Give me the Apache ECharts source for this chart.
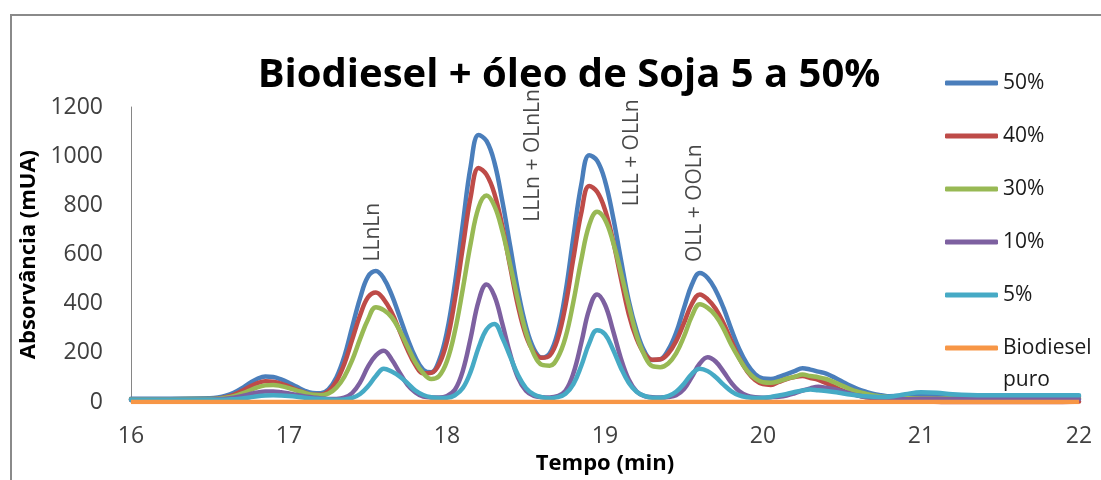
<!DOCTYPE html>
<html>
<head>
<meta charset="utf-8">
<script src="https://cdn.jsdelivr.net/npm/echarts@6/dist/echarts.min.js"></script>
<style>
  html, body { margin: 0; padding: 0; background: #ffffff; }
  #chart { width: 1101px; height: 480px; }
</style>
</head>
<body>
<div id="chart"></div>
<script>
// Retention times (min) shared by the blend chromatograms
const times = [
  16, 16.25, 16.5, 16.55, 16.6, 16.65, 16.7, 16.75, 16.8, 16.85,
  16.9, 16.95, 17, 17.05, 17.1, 17.15, 17.2, 17.25, 17.3, 17.35,
  17.4, 17.45, 17.5, 17.55, 17.6, 17.65, 17.7, 17.75, 17.8, 17.85,
  17.9, 17.95, 18, 18.05, 18.1, 18.15, 18.2, 18.25, 18.3, 18.35,
  18.4, 18.45, 18.5, 18.55, 18.6, 18.65, 18.7, 18.75, 18.8, 18.85,
  18.9, 18.95, 19, 19.05, 19.1, 19.15, 19.2, 19.25, 19.3, 19.35,
  19.4, 19.45, 19.5, 19.55, 19.6, 19.65, 19.7, 19.75, 19.8, 19.85,
  19.9, 19.95, 20, 20.05, 20.1, 20.15, 20.2, 20.25, 20.3, 20.35,
  20.4, 20.45, 20.5, 20.55, 20.6, 20.65, 20.7, 20.75, 20.8, 20.9,
  21, 21.1, 21.2, 21.4, 21.6, 21.8, 22
];

// Absorbance (mUA) of each blend
const blend50 = [
  14, 14, 16, 19, 26, 38, 56, 77, 95, 104,
  102, 92, 78, 62, 46, 37, 36, 52, 100, 185,
  305, 423, 510, 533, 503, 436, 348, 258, 182, 131,
  121, 169, 287, 481, 724, 960, 1086, 1062, 975, 818,
  634, 450, 307, 216, 181, 198, 283, 446, 672, 885,
  1004, 982, 900, 756, 582, 413, 290, 206, 171, 174,
  212, 282, 383, 478, 525, 505, 455, 383, 295, 215,
  154, 114, 96, 94, 102, 114, 126, 138, 132, 124,
  116, 101, 84, 67, 53, 42, 33, 28, 24, 26,
  30, 27, 24, 22, 21, 21, 22
];
const blend40 = [
  10, 10, 12, 14, 20, 30, 45, 62, 77, 85,
  83, 75, 63, 50, 38, 30, 30, 44, 84, 155,
  254, 353, 426, 446, 418, 364, 290, 214, 151, 117,
  119, 154, 248, 417, 629, 835, 952, 925, 848, 715,
  550, 389, 270, 204, 180, 189, 256, 393, 585, 770,
  879, 855, 782, 659, 506, 359, 258, 196, 172, 174,
  198, 248, 322, 400, 438, 418, 380, 321, 249, 178,
  125, 90, 73, 70, 82, 94, 102, 106, 98, 90,
  77, 63, 48, 36, 28, 20, 16, 12, 10, 10,
  8, 0, -8, -10, -10, -6, 2
];
const blend30 = [
  12, 12, 13, 14, 18, 24, 34, 47, 60, 68,
  70, 65, 57, 47, 37, 30, 28, 35, 59, 103,
  171, 257, 336, 386, 374, 345, 292, 226, 162, 117,
  94, 106, 167, 288, 460, 646, 792, 840, 798, 696,
  558, 412, 283, 195, 152, 148, 180, 263, 408, 579,
  720, 774, 742, 653, 529, 395, 272, 190, 146, 142,
  157, 198, 267, 350, 398, 383, 352, 299, 232, 176,
  127, 96, 81, 79, 85, 95, 103, 112, 106, 101,
  94, 81, 67, 53, 42, 34, 27, 23, 19, 16,
  16, 15, 14, 12, 12, 12, 14
];
const blend10 = [
  10, 10, 10, 12, 14, 18, 24, 32, 39, 43,
  43, 40, 35, 29, 23, 19, 15, 13, 13, 18,
  37, 80, 144, 190, 209, 173, 120, 70, 39, 22,
  19, 19, 25, 50, 127, 262, 411, 478, 432, 319,
  195, 99, 46, 25, 20, 19, 24, 46, 117, 241,
  377, 438, 396, 293, 179, 92, 43, 24, 20, 19,
  21, 28, 53, 103, 157, 182, 165, 124, 78, 44,
  26, 20, 18, 20, 22, 27, 36, 47, 56, 62,
  58, 52, 44, 35, 27, 21, 16, 13, 12, 12,
  14, 14, 12, 12, 12, 12, 12
];
const blend5 = [
  10, 10, 10, 10, 10, 12, 15, 19, 24, 27,
  28, 27, 25, 22, 18, 15, 13, 11, 10, 11,
  17, 33, 64, 106, 136, 124, 104, 77, 47, 29,
  20, 17, 18, 28, 57, 124, 222, 295, 318, 262,
  185, 109, 57, 31, 20, 16, 20, 34, 73, 148,
  239, 292, 276, 215, 140, 79, 42, 25, 18, 18,
  24, 42, 75, 115, 136, 126, 102, 71, 44, 27,
  20, 17, 18, 21, 27, 33, 41, 47, 51, 48,
  45, 41, 36, 31, 27, 24, 22, 21, 22, 32,
  40, 38, 32, 28, 28, 28, 28
];

// Pure biodiesel stays flat over the whole run
const pureTimes = [16, 22];
const pureValues = [0, 0];

const seriesNames = ['50%', '40%', '30%', '10%', '5%', 'Biodiesel\npuro'];
const seriesColors = ['#4A7EBB', '#BE4B48', '#98B954', '#7D60A0', '#46AAC5', '#F79646'];

// Peak assignments written next to the peaks
const peakLabels = ['LLnLn', 'LLLn + OLnLn', 'LLL + OLLn', 'OLL + OOLn'];
const peakLabelTimes = [17.53, 18.545, 19.17, 19.57];
const peakLabelLevels = [691, 1003, 1014, 809];

const xTicks = { min: 16, max: 22, step: 1 };
const yTicks = { min: 0, max: 1200, step: 200 };

const FONT = 'Open Sans';

const blendValues = [blend50, blend40, blend30, blend10, blend5];
const lineSeries = blendValues.map((vals, i) => ({
  name: seriesNames[i],
  type: 'line',
  data: times.map((t, k) => [t, vals[k]]),
  smooth: 0.4,
  showSymbol: false,
  symbol: 'none',
  lineStyle: { width: 4.5, color: seriesColors[i], cap: 'round', join: 'round' },
  itemStyle: { color: seriesColors[i] },
  silent: true
}));
lineSeries.push({
  name: seriesNames[5],
  type: 'line',
  data: pureTimes.map((t, k) => [t, pureValues[k]]),
  showSymbol: false,
  symbol: 'none',
  lineStyle: { width: 4.5, color: seriesColors[5] },
  itemStyle: { color: seriesColors[5] },
  silent: true
});
lineSeries.push({
  name: 'peakNames',
  type: 'scatter',
  symbolSize: 0,
  silent: true,
  data: peakLabels.map((txt, i) => ({ value: [peakLabelTimes[i], peakLabelLevels[i]], name: txt })),
  label: {
    show: true,
    position: 'inside',
    rotate: 90,
    formatter: p => p.name,
    fontFamily: FONT,
    fontSize: 21,
    color: '#1a1a1a'
  },
  z: 5
});

const chart = echarts.init(document.getElementById('chart'), null, { renderer: 'canvas' });
chart.setOption({
  animation: false,
  backgroundColor: '#ffffff',
  textStyle: { fontFamily: FONT },
  title: {
    text: 'Biodiesel + óleo de Soja 5 a 50%',
    left: 564,
    top: 51,
    textAlign: 'center',
    textStyle: { fontFamily: FONT, fontSize: 40, fontWeight: 'bold', color: '#000000' }
  },
  graphic: [{
    type: 'rect',
    shape: { x: 11, y: 15, width: 1200, height: 600 },
    style: { fill: 'none', stroke: '#8a8a8a', lineWidth: 2 },
    silent: true,
    z: 0
  }],
  legend: [{
    data: seriesNames.slice(0, 5),
    orient: 'vertical',
    left: 945,
    top: 72,
    padding: 0,
    itemGap: 31,
    itemWidth: 53,
    itemHeight: 5,
    icon: 'roundRect',
    textStyle: { fontFamily: FONT, fontSize: 21, color: '#1a1a1a', lineHeight: 22 },
    selectedMode: false
  }, {
    // two-line entry: a leading empty line keeps "Biodiesel" level with its swatch
    data: [seriesNames[5]],
    orient: 'vertical',
    left: 945,
    top: 300,
    padding: 0,
    itemWidth: 53,
    itemHeight: 5,
    icon: 'roundRect',
    formatter: name => '\n' + name,
    textStyle: { fontFamily: FONT, fontSize: 21, color: '#1a1a1a', lineHeight: 32 },
    selectedMode: false
  }],
  grid: { left: 131, right: 22, top: 107, bottom: 69, containLabel: false },
  xAxis: {
    type: 'value',
    min: xTicks.min,
    max: xTicks.max,
    interval: xTicks.step,
    name: 'Tempo (min)',
    nameLocation: 'middle',
    nameGap: 48,
    nameTextStyle: { fontFamily: FONT, fontSize: 22, fontWeight: 'bold', color: '#000000' },
    axisLine: { show: true, lineStyle: { color: '#868686', width: 1 } },
    axisTick: { show: false },
    splitLine: { show: false },
    axisLabel: { fontFamily: FONT, fontSize: 23, color: '#404040', margin: 23, formatter: v => String(v) }
  },
  yAxis: {
    type: 'value',
    min: yTicks.min,
    max: yTicks.max,
    interval: yTicks.step,
    name: 'Absorvância (mUA)',
    nameLocation: 'middle',
    nameGap: 80,
    nameRotate: 90,
    nameTextStyle: { fontFamily: FONT, fontSize: 22, fontWeight: 'bold', color: '#000000' },
    axisLine: { show: true, lineStyle: { color: '#868686', width: 1 } },
    axisTick: { show: false },
    splitLine: { show: false },
    axisLabel: { fontFamily: FONT, fontSize: 23, color: '#404040', margin: 28, formatter: v => String(v) }
  },
  series: lineSeries
});
</script>
</body>
</html>
